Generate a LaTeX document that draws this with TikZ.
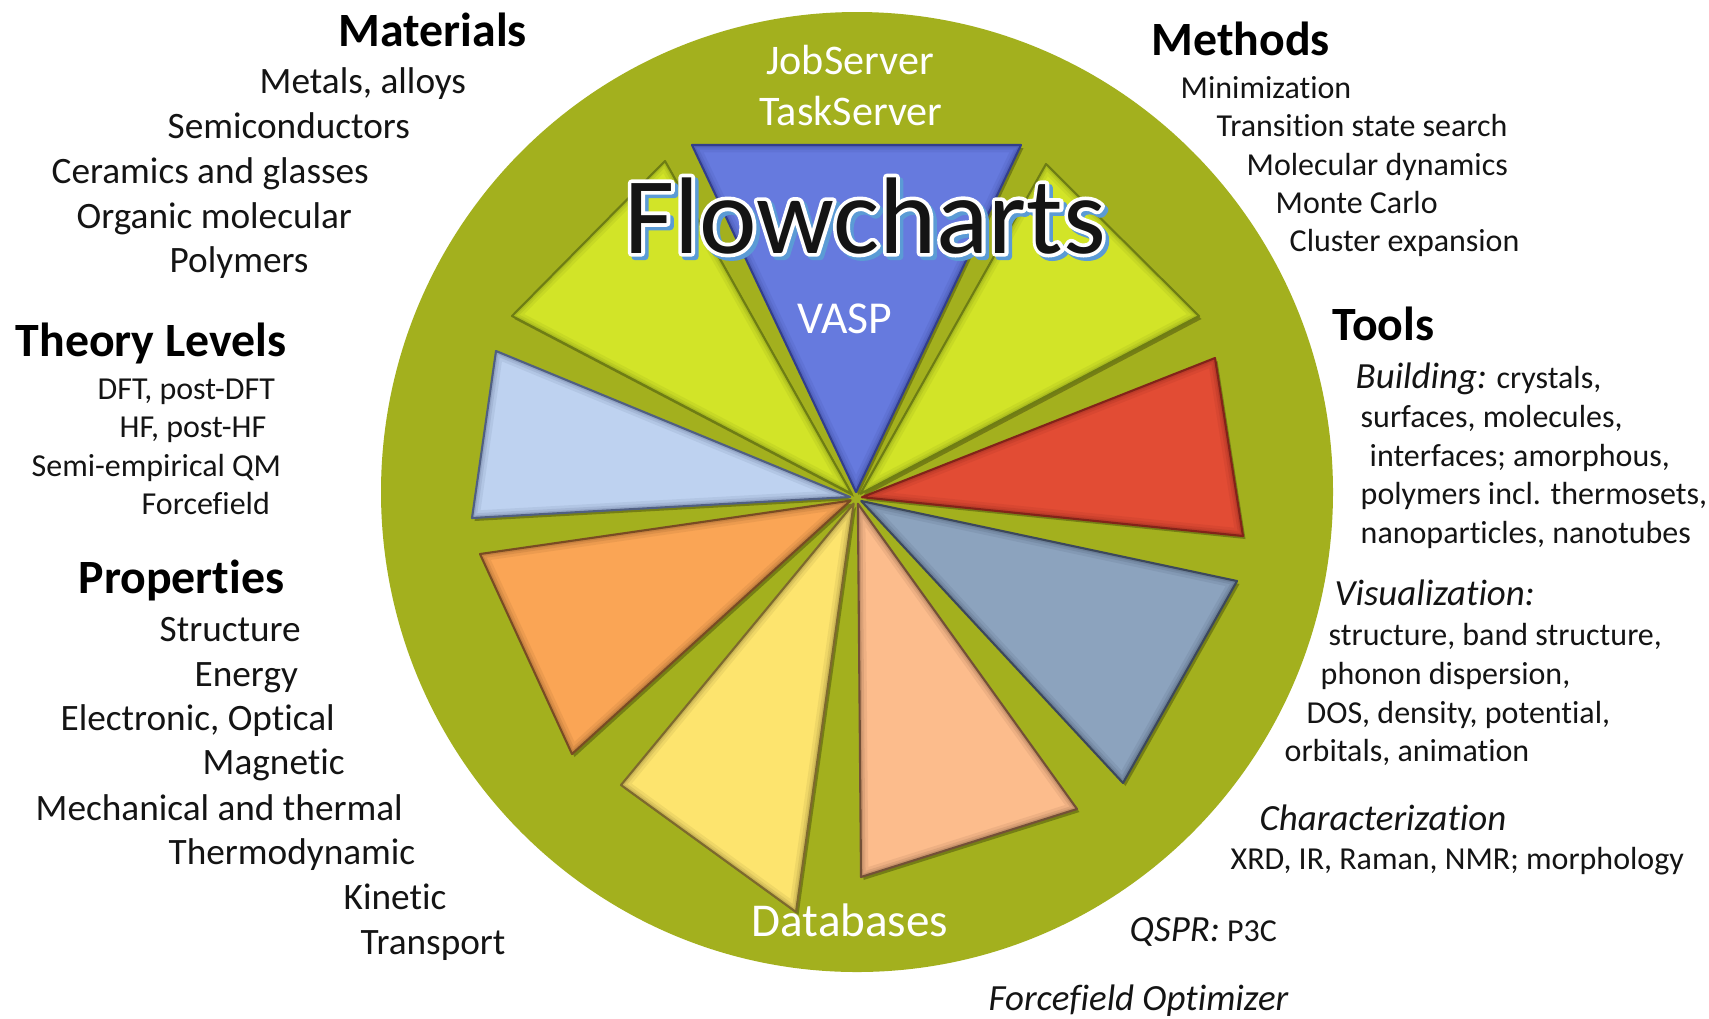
\documentclass[tikz,border=0pt]{standalone}
\usepackage{fontspec}
\setmainfont{Carlito}[Ligatures=NoCommon]
\usetikzlibrary{calc}
\definecolor{cgreen}{RGB}{163,176,30}
\definecolor{clime}{RGB}{210,228,40}
\definecolor{climeE}{RGB}{110,125,20}
\definecolor{cblue}{RGB}{102,122,222}
\definecolor{cblueE}{RGB}{50,62,140}
\definecolor{clblue}{RGB}{190,210,240}
\definecolor{clblueE}{RGB}{80,95,130}
\definecolor{cred}{RGB}{226,76,52}
\definecolor{credE}{RGB}{130,35,25}
\definecolor{corange}{RGB}{250,165,85}
\definecolor{corangeE}{RGB}{120,75,35}
\definecolor{cyellow}{RGB}{253,228,110}
\definecolor{cyellowE}{RGB}{125,105,45}
\definecolor{cpeach}{RGB}{252,188,140}
\definecolor{cpeachE}{RGB}{115,80,55}
\definecolor{csteel}{RGB}{140,163,190}
\definecolor{csteelE}{RGB}{60,72,92}
\definecolor{cshblue}{RGB}{91,155,213}
\definecolor{ctext}{RGB}{20,20,20}
% #1,#2 outer corners, #3 fill, #4 edge colour, #5 tip name
\newcommand\mytri[5]{%
  \coordinate (#5) at ($(O)!0.06cm!($(#1)!0.5!(#2)$)$);
  \fill[black,opacity=0.28,transform canvas={shift={(0.025,-0.03)}}] (#5) -- (#1) -- (#2) -- cycle;
  \fill[#3] (#5) -- (#1) -- (#2) -- cycle;
  \begin{scope}
    \clip (#5) -- (#1) -- (#2) -- cycle;
    \draw[#4,opacity=0.10,line width=4.2pt,line join=round] (#5) -- (#1) -- (#2) -- cycle;
    \draw[#4,opacity=0.14,line width=2.6pt,line join=round] (#5) -- (#1) -- (#2) -- cycle;
    \draw[#4,opacity=0.20,line width=1.4pt,line join=round] (#5) -- (#1) -- (#2) -- cycle;
  \end{scope}
  \draw[#4,line width=0.6pt,line join=round] (#5) -- (#1) -- (#2) -- cycle;
}
\newcommand\flstroke[2]{\special{pdf:literal direct 2 Tr #1 RG #2 w 1 j}}
\newcommand\flreset{\special{pdf:literal direct 0 Tr}}
\tikzset{
  bigtxt/.style={font=\fontsize{10.6}{12}\selectfont, anchor=base west, inner sep=0pt, text=ctext},
  smalltxt/.style={font=\fontsize{9.1}{10}\selectfont, anchor=base west, inner sep=0pt, text=ctext},
  headtxt/.style={font=\bfseries\fontsize{13.6}{15}\selectfont, anchor=base west, inner sep=0pt, text=black},
  itxt/.style={font=\itshape\fontsize{10.5}{12}\selectfont, anchor=base west, inner sep=0pt, text=ctext},
  wtxt/.style={font=\fontsize{12}{14}\selectfont, anchor=base, inner sep=0pt, text=white},
  fltxt/.style={font=\fontsize{31}{34}\selectfont, anchor=base, inner sep=0pt}
}
\begin{document}
\begin{tikzpicture}
\useasboundingbox (0,0) rectangle (17.09,-10.18);
\fill[white] (0,0) rectangle (17.09,-10.18);
% circle
\fill[cgreen] (8.57,-4.92) ellipse [x radius=4.76, y radius=4.80];
\coordinate (O) at (8.56,-4.98);
% triangle corners
\coordinate (bl1) at (6.92,-1.45); \coordinate (bl2) at (10.21,-1.45);
\coordinate (ul1) at (6.65,-1.61); \coordinate (ul2) at (5.12,-3.16);
\coordinate (ur1) at (10.46,-1.64); \coordinate (ur2) at (11.99,-3.16);
\coordinate (lb1) at (4.96,-3.51); \coordinate (lb2) at (4.72,-5.18);
\coordinate (rd1) at (12.15,-3.58); \coordinate (rd2) at (12.43,-5.36);
\coordinate (or1) at (4.80,-5.54); \coordinate (or2) at (5.72,-7.54);
\coordinate (ye1) at (6.21,-7.85); \coordinate (ye2) at (7.96,-9.12);
\coordinate (pe1) at (8.61,-8.77); \coordinate (pe2) at (10.77,-8.09);
\coordinate (st1) at (12.37,-5.81); \coordinate (st2) at (11.23,-7.83);
\mytri{ul1}{ul2}{clime}{climeE}{ulT}
\mytri{ur1}{ur2}{clime}{climeE}{urT}
\mytri{lb1}{lb2}{clblue}{clblueE}{lbT}
\mytri{rd1}{rd2}{cred}{credE}{rdT}
\mytri{or1}{or2}{corange}{corangeE}{orT}
\mytri{ye1}{ye2}{cyellow}{cyellowE}{yeT}
\mytri{pe1}{pe2}{cpeach}{cpeachE}{peT}
\mytri{st1}{st2}{csteel}{csteelE}{stT}
\mytri{bl1}{bl2}{cblue}{cblueE}{blT}
% white labels in circle
\node[wtxt] (job) at (8.50,-0.74) {JobServer};
\node[wtxt] (task) at (8.51,-1.25) {TaskServer};
\node[wtxt, font=\fontsize{13}{15}\selectfont] (vasp) at (8.45,-3.33) {VASP};
\node[wtxt, font=\fontsize{13.4}{15}\selectfont] (db) at (8.50,-9.36) {Databases};
% Flowcharts with outline and shadow
\coordinate (flc) at (8.65,-2.53);
\node[fltxt, text=cshblue, xshift=0.035cm, yshift=-0.035cm] (flb) at (flc) {\flstroke{0.357 0.608 0.835}{2.1}Flowcharts\flreset};
\node[fltxt, text=white] (flw) at (flc) {\flstroke{1 1 1}{2.1}Flowcharts\flreset};
\node[fltxt, text=ctext] (flow) at (flc) {Flowcharts};
% Materials
\node[headtxt] (mat) at (3.38,-0.46) {Materials};
\node[bigtxt] (m1) at (2.59,-0.93) {Metals, alloys};
\node[bigtxt] (m2) at (1.67,-1.38) {Semiconductors};
\node[bigtxt] (m3) at (0.51,-1.83) {Ceramics and glasses};
\node[bigtxt] (m4) at (0.76,-2.28) {Organic molecular};
\node[bigtxt] (m5) at (1.69,-2.72) {Polymers};
% Theory levels
\node[headtxt] (thl) at (0.15,-3.56) {Theory Levels};
\node[smalltxt] (t1) at (0.97,-3.99) {DFT, post-DFT};
\node[smalltxt] (t2) at (1.19,-4.37) {HF, post-HF};
\node[smalltxt] (t3) at (0.31,-4.76) {Semi-empirical QM};
\node[smalltxt] (t4) at (1.41,-5.14) {Forcefield};
% Properties
\node[headtxt] (prop) at (0.78,-5.93) {Properties};
\node[bigtxt] (p1) at (1.59,-6.41) {Structure};
\node[bigtxt] (p2) at (1.94,-6.86) {Energy};
\node[bigtxt] (p3) at (0.60,-7.30) {Electronic, Optical};
\node[bigtxt] (p4) at (2.02,-7.74) {Magnetic};
\node[bigtxt] (p5) at (0.35,-8.20) {Mechanical and thermal};
\node[bigtxt] (p6) at (1.68,-8.64) {Thermodynamic};
\node[bigtxt] (p7) at (3.43,-9.09) {Kinetic};
\node[bigtxt] (p8) at (3.60,-9.54) {Transport};
% Methods
\node[headtxt] (meth) at (11.51,-0.55) {Methods};
\node[smalltxt] (me1) at (11.80,-0.98) {Minimization};
\node[smalltxt] (me2) at (12.16,-1.36) {Transition state search};
\node[smalltxt] (me3) at (12.46,-1.75) {Molecular dynamics};
\node[smalltxt] (me4) at (12.75,-2.13) {Monte Carlo};
\node[smalltxt] (me5) at (12.89,-2.51) {Cluster expansion};
% Tools
\node[headtxt] (tools) at (13.32,-3.40) {Tools};
\node[smalltxt] (to1) at (13.55,-3.88) {{\itshape\fontsize{10.5}{12}\selectfont Building:} crystals,};
\node[smalltxt] (to2) at (13.60,-4.27) {surfaces, molecules,};
\node[smalltxt] (to3) at (13.69,-4.66) {interfaces; amorphous,};
\node[smalltxt] (to4) at (13.60,-5.04) {polymers incl. thermosets,};
\node[smalltxt] (to5) at (13.60,-5.43) {nanoparticles, nanotubes};
\node[itxt] (vis) at (13.34,-6.05) {Visualization:};
\node[smalltxt] (v1) at (13.28,-6.45) {structure, band structure,};
\node[smalltxt] (v2) at (13.20,-6.84) {phonon dispersion,};
\node[smalltxt] (v3) at (13.06,-7.23) {DOS, density, potential,};
\node[smalltxt] (v4) at (12.84,-7.61) {orbitals, animation};
\node[itxt] (char) at (12.59,-8.30) {Characterization};
\node[smalltxt] (c1) at (12.30,-8.69) {XRD, IR, Raman, NMR; morphology};
\node[smalltxt] (qspr) at (11.29,-9.41) {{\itshape\fontsize{10.5}{12}\selectfont QSPR:} P3C};
\node[itxt] (ffo) at (9.88,-10.10) {Forcefield Optimizer};
\end{tikzpicture}
\end{document}
